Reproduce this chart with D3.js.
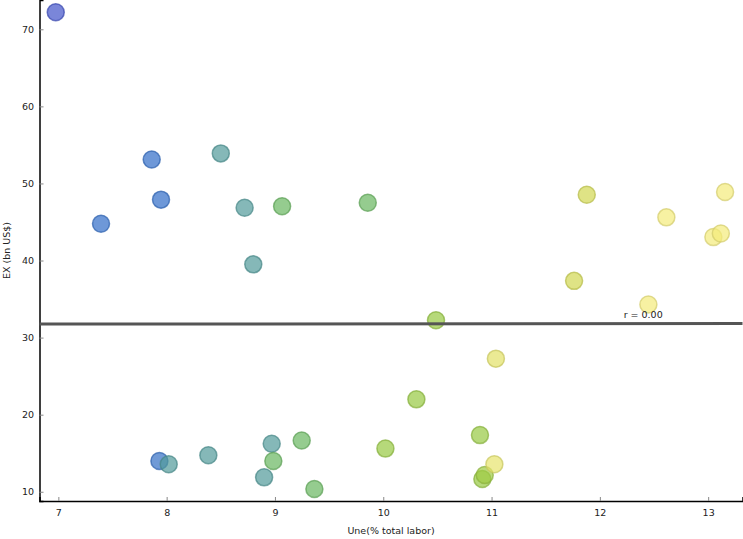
<!DOCTYPE html>
<html>
<head>
<meta charset="utf-8">
<script src="https://cdn.jsdelivr.net/npm/d3@7"></script>
<style>
  html, body { margin: 0; padding: 0; background: #fff; }
  svg { display: block; }
  text { font-family: "DejaVu Sans", Verdana, sans-serif; }
</style>
</head>
<body>
<svg id="chart" width="743" height="539"></svg>
<script>
// Unemployment (% total labor)
const une = [6.976, 7.394, 7.862, 7.948, 7.933, 8.019, 8.385, 8.50, 8.72, 8.80, 8.97, 8.90,
             8.985, 9.066, 9.247, 9.364, 9.857, 10.02, 10.306, 10.487, 10.893, 10.915, 10.937,
             11.04, 11.026, 11.762, 11.879, 12.448, 12.614, 13.048, 13.117, 13.156];
// Exports (bn US$)
const ex = [72.2, 44.76, 53.1, 47.9, 13.99, 13.56, 14.73, 53.9, 46.84, 39.5, 16.23, 11.87,
            13.99, 47.05, 16.66, 10.35, 47.5, 15.6, 21.99, 32.26, 17.35, 11.65, 12.17,
            27.27, 13.56, 37.36, 48.53, 34.3, 45.6, 43.04, 43.5, 48.9];
// colour value (0..1) of each point
const colorVal = [0.0, 0.12, 0.12, 0.12, 0.13, 0.3, 0.3, 0.3, 0.3, 0.3, 0.3, 0.3,
                  0.45, 0.45, 0.45, 0.45, 0.45, 0.6, 0.6, 0.6, 0.6, 0.6, 0.62,
                  0.85, 0.88, 0.75, 0.75, 0.95, 0.95, 0.95, 0.95, 0.95];
const xTicks = [7, 8, 9, 10, 11, 12, 13];
const yTicks = [10, 20, 30, 40, 50, 60, 70];
const xLabel = "Une(% total labor)";
const yLabel = "EX (bn US$)";

const svg = d3.select("#chart");
const L = 39.5, R = 742.5, T = 0, B = 501;

const x = d3.scaleLinear().domain([6.826, 13.317]).range([L, R]);
const y = d3.scaleLinear().domain([8.8, 73.8]).range([B, T]);

const color = d3.scaleLinear()
  .domain([0, 0.12, 0.3, 0.45, 0.6, 0.75, 1])
  .range(["#4252c9", "#316cc7", "#519a9a", "#68b660", "#97c941", "#d1d751", "#fbf085"])
  .interpolate(d3.interpolateRgb);

// axes
const xAxis = d3.axisBottom(x).tickValues(xTicks).tickSize(-4).tickPadding(10).tickFormat(d3.format("d"));
const yAxis = d3.axisLeft(y).tickValues(yTicks).tickSize(-4).tickPadding(10).tickFormat(d3.format("d"));

const gx = svg.append("g").attr("transform", `translate(0,${B})`).call(xAxis);
const gy = svg.append("g").attr("transform", `translate(${L},0)`).call(yAxis);
[gx, gy].forEach(g => {
  g.select(".domain").attr("stroke", "#000").attr("stroke-width", 1.5);
  g.selectAll(".tick line").attr("stroke", "#888").attr("stroke-width", 1);
  g.selectAll(".tick text").attr("fill", "#222").style("font-size", "9.5px")
    .style("font-family", "'DejaVu Sans', Verdana, sans-serif");
});
gy.selectAll(".tick text").attr("x", -5.5);
gx.selectAll(".tick text").attr("dy", "0.71em").attr("y", 8);

// points
const pts = une.map((u, i) => ({ u, e: ex[i], c: colorVal[i] }));
svg.append("g").selectAll("circle").data(pts).join("circle")
  .attr("cx", d => x(d.u))
  .attr("cy", d => y(d.e))
  .attr("r", 8.5)
  .attr("fill", d => color(d.c))
  .attr("fill-opacity", 0.7)
  .attr("stroke", d => d3.color(color(d.c)).darker(0.4))
  .attr("stroke-opacity", 0.7)
  .attr("stroke-width", 1.5);

// regression
const mx = d3.mean(une), my = d3.mean(ex);
let sxy = 0, sxx = 0, syy = 0;
une.forEach((u, i) => { sxy += (u - mx) * (ex[i] - my); sxx += (u - mx) ** 2; syy += (ex[i] - my) ** 2; });
const slope = sxy / sxx, icpt = my - slope * mx;
const r = sxy / Math.sqrt(sxx * syy);
const [x0, x1] = x.domain();
svg.append("line")
  .attr("x1", x(x0)).attr("y1", y(icpt + slope * x0))
  .attr("x2", x(x1)).attr("y2", y(icpt + slope * x1))
  .attr("stroke", "#555").attr("stroke-width", 3);
svg.append("text")
  .attr("x", x(12.4)).attr("y", y(icpt + slope * 12.4) - 6)
  .attr("text-anchor", "middle")
  .attr("fill", "#222")
  .style("font-size", "9.5px")
  .text("r = " + d3.format(".2f")(r));

// axis labels
svg.append("text")
  .attr("x", (L + R) / 2).attr("y", 534)
  .attr("text-anchor", "middle").attr("fill", "#222").style("font-size", "9.5px")
  .text(xLabel);
svg.append("text")
  .attr("transform", `translate(10,${(T + B) / 2}) rotate(-90)`)
  .attr("text-anchor", "middle").attr("fill", "#222").style("font-size", "9.5px")
  .text(yLabel);
</script>
</body>
</html>
